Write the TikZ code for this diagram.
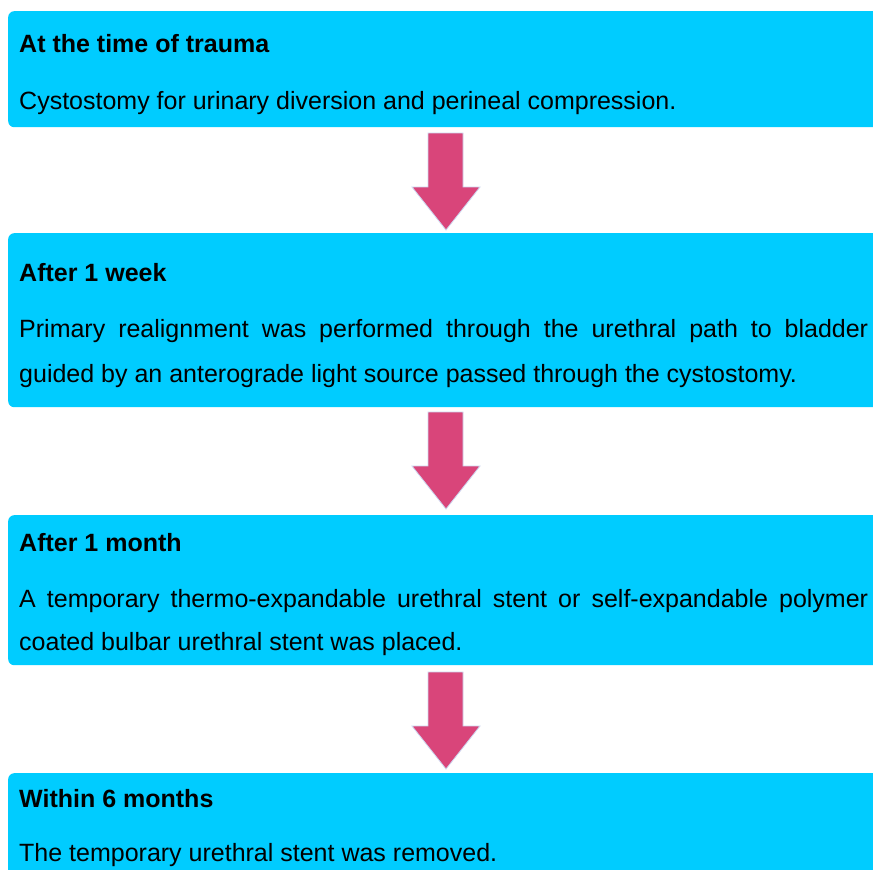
\documentclass[tikz,border=0pt]{standalone}
\usepackage{fontspec}
\setmainfont{Liberation Sans}
\definecolor{boxcyan}{RGB}{0,204,255}
\definecolor{arrowpink}{RGB}{217,69,122}
\definecolor{arrowedge}{RGB}{205,215,240}
\begin{document}
\begin{tikzpicture}[x=1pt,y=-1pt,
  box/.style={fill=boxcyan, draw=none, rounded corners=6pt, anchor=north west, minimum width=900pt, inner sep=0pt},
  txt/.style={font=\fontsize{25}{30}\selectfont, inner sep=0pt, anchor=base west, text=black},
  blockarrow/.style={fill=arrowpink, draw=arrowedge, line width=0.8pt, line join=miter}]
\useasboundingbox (0,0) rectangle (873,870);
\clip (0,0) rectangle (873,870);
\fill[white] (0,0) rectangle (873,870);

% boxes
\node[box, minimum height=116pt] (b1) at (8,11) {};
\node[box, minimum height=174pt] (b2) at (8,233) {};
\node[box, minimum height=150pt] (b3) at (8,515) {};
\node[box, minimum height=120pt] (b4) at (8,773) {};

% texts
\node[txt] (h1) at (19,52) {\bfseries At the time of trauma};
\node[txt] (t1) at (19,109) {Cystostomy for urinary diversion and perineal compression.};

\node[txt] (h2) at (19,281) {\bfseries After 1 week};
\node[txt] (t2a) at (19,337) {\makebox[849pt][s]{Primary realignment was performed through the urethral path to bladder}};
\node[txt] (t2b) at (19,382) {guided by an anterograde light source passed through the cystostomy.};

\node[txt] (h3) at (19,551) {\bfseries After 1 month};
\node[txt] (t3a) at (19,607) {\makebox[849pt][s]{A temporary thermo-expandable urethral stent or self-expandable polymer}};
\node[txt] (t3b) at (19,650) {coated bulbar urethral stent was placed.};

\node[txt] (h4) at (19,807) {\bfseries Within 6 months};
\node[txt] (t4) at (19,861) {The temporary urethral stent was removed.};

% block arrows
\foreach \name/\top in {a1/133, a2/412, a3/672}{
  \coordinate (\name) at (446,\top);
  \draw[blockarrow] (\name) ++(-18,0) -- ++(35,0) -- ++(0,54) -- ++(17,0)
    -- ++(-34,43) -- ++(-34,-43) -- ++(16,0) -- cycle;
}
\end{tikzpicture}
\end{document}
